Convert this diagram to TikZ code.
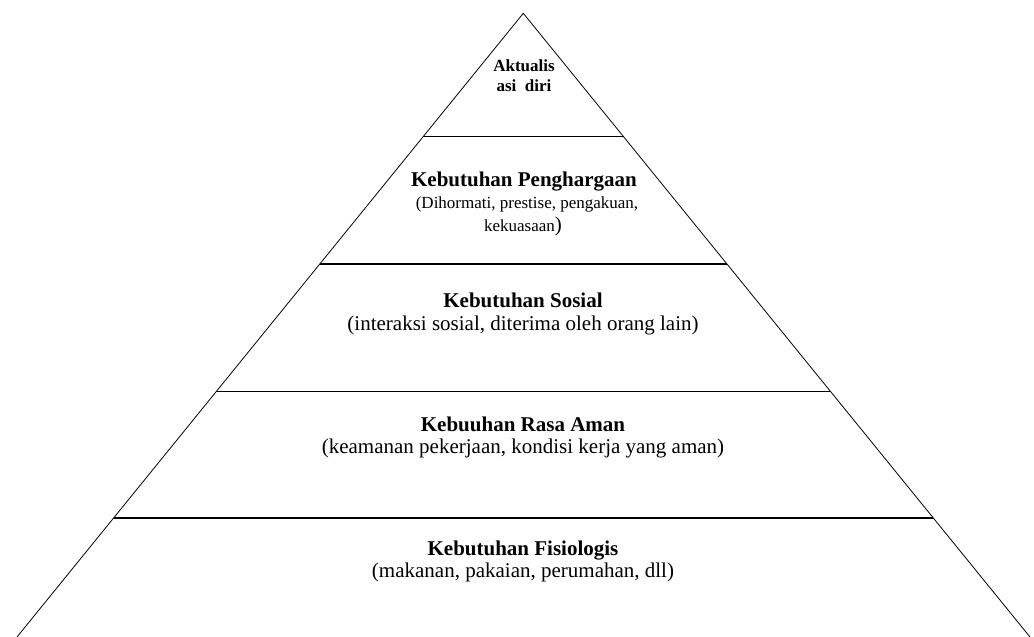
\documentclass[tikz,border=0pt]{standalone}
\usepackage{fontspec}
\setmainfont{Liberation Serif}
\usetikzlibrary{calc}

\begin{document}
\begin{tikzpicture}[x=1pt,y=-1pt,
  side/.style={line width=0.8pt},
  level/.style={line width=1.3pt},
  title/.style={anchor=base,inner sep=0,font=\fontsize{21}{24}\selectfont\bfseries},
  desc/.style={anchor=base,inner sep=0,font=\fontsize{21}{24}\selectfont},
  small/.style={anchor=base,inner sep=0,font=\fontsize{17}{20}\selectfont}]
\useasboundingbox (0,0) rectangle (1034,637);
\coordinate (top) at (523.3,13.3);
\coordinate (bl) at (17,637);
\coordinate (br) at (1030,637);
\draw[side] (bl) -- (top) -- (br);
  \foreach \t/\n in {0.198/1,0.402/2,0.606/3,0.809/4}
  {  \coordinate (l\n) at ($(top)!\t!(bl)$);
     \coordinate (r\n) at ($(top)!\t!(br)$);
     \draw[level] (l\n) -- (r\n);}
% top level
\node[small,font=\fontsize{17}{20}\selectfont\bfseries] (aktual) at (524,71) {Aktualis};
\node[small,font=\fontsize{17}{20}\selectfont\bfseries] (diri) at (524,91) {asi\ \ diri};
% second level
\node[title] (harga) at (524,186) {Kebutuhan Penghargaan};
\node[small] (harga1) at (527,208) {(Dihormati, prestise, pengakuan,};
\node[small] (harga2) at (523,231) {kekuasaan\fontsize{21}{24}\selectfont)};
% third level
\node[title] (sosial) at (523,307) {Kebutuhan Sosial};
\node[desc] (sosial1) at (523,330) {(interaksi sosial, diterima oleh orang lain)};
% fourth level
\node[title] (aman) at (523,431) {Kebuuhan Rasa Aman};
\node[desc] (aman1) at (523,453) {(keamanan pekerjaan, kondisi kerja yang aman)};
% bottom level
\node[title] (fisio) at (523,555) {Kebutuhan Fisiologis};
\node[desc] (fisio1) at (523,577) {(makanan, pakaian, perumahan, dll)};
\end{tikzpicture}
\end{document}
